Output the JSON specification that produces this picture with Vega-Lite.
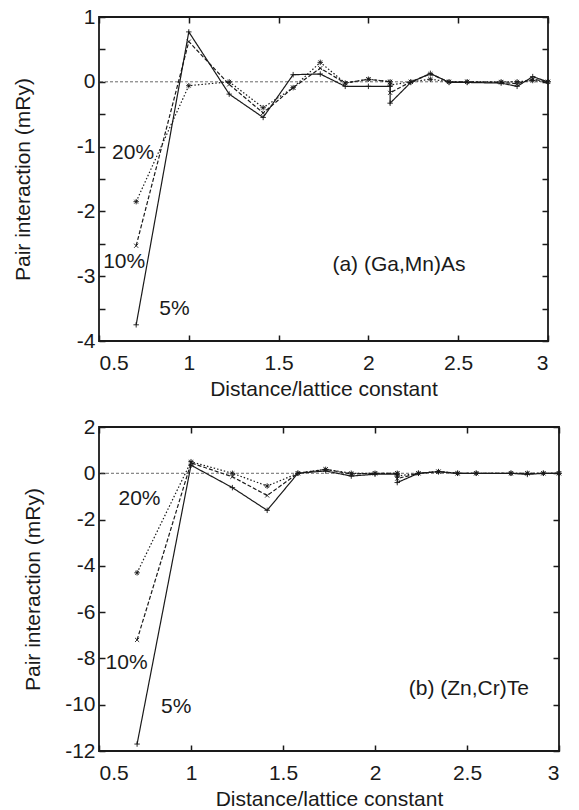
{
 "$schema": "https://vega.github.io/schema/vega-lite/v6.json",
 "padding": {"left": 11, "top": 5, "right": 5, "bottom": 0},
 "spacing": 15,
 "config": {
  "font": "Liberation Sans",
  "view": {"stroke": "#1a1a1a", "strokeWidth": 1.8},
  "axis": {"domain": false, "grid": false, "tickSize": -6, "tickWidth": 1.5, "tickColor": "#1a1a1a", "labelFont": "Liberation Sans", "labelFontSize": 21, "labelColor": "#1a1a1a", "titleFont": "Liberation Sans", "titleFontSize": 21, "titleFontWeight": "normal", "titleColor": "#1a1a1a", "labelPadding": 17, "titlePadding": 5},
  "axisY": {"labelPadding": 10},
  "text": {"font": "Liberation Sans"}
 },
 "datasets": {
  "a": [
   {"s":"5%","i":0,"x":0.707,"y":-3.75},{"s":"5%","i":1,"x":1.0,"y":0.77},{"s":"5%","i":2,"x":1.225,"y":-0.19},{"s":"5%","i":3,"x":1.414,"y":-0.55},{"s":"5%","i":4,"x":1.581,"y":0.11},{"s":"5%","i":5,"x":1.732,"y":0.12},{"s":"5%","i":6,"x":1.871,"y":-0.07},{"s":"5%","i":7,"x":2.0,"y":-0.07},{"s":"5%","i":8,"x":2.121,"y":-0.07},{"s":"5%","i":9,"x":2.121,"y":-0.33},{"s":"5%","i":10,"x":2.236,"y":-0.01},{"s":"5%","i":11,"x":2.345,"y":0.13},{"s":"5%","i":12,"x":2.449,"y":-0.01},{"s":"5%","i":13,"x":2.55,"y":-0.01},{"s":"5%","i":14,"x":2.739,"y":-0.02},{"s":"5%","i":15,"x":2.828,"y":-0.07},{"s":"5%","i":16,"x":2.915,"y":0.08},{"s":"5%","i":17,"x":3.0,"y":0.0},
   {"s":"10%","i":0,"x":0.707,"y":-2.53},{"s":"10%","i":1,"x":1.0,"y":0.62},{"s":"10%","i":2,"x":1.225,"y":-0.04},{"s":"10%","i":3,"x":1.414,"y":-0.48},{"s":"10%","i":4,"x":1.581,"y":-0.09},{"s":"10%","i":5,"x":1.732,"y":0.21},{"s":"10%","i":6,"x":1.871,"y":-0.02},{"s":"10%","i":7,"x":2.0,"y":0.04},{"s":"10%","i":8,"x":2.121,"y":0.0},{"s":"10%","i":9,"x":2.121,"y":-0.17},{"s":"10%","i":10,"x":2.236,"y":0.0},{"s":"10%","i":11,"x":2.345,"y":0.12},{"s":"10%","i":12,"x":2.449,"y":0.0},{"s":"10%","i":13,"x":2.55,"y":0.0},{"s":"10%","i":14,"x":2.739,"y":-0.01},{"s":"10%","i":15,"x":2.828,"y":-0.03},{"s":"10%","i":16,"x":2.915,"y":0.04},{"s":"10%","i":17,"x":3.0,"y":0.0},
   {"s":"20%","i":0,"x":0.707,"y":-1.85},{"s":"20%","i":1,"x":1.0,"y":-0.06},{"s":"20%","i":2,"x":1.225,"y":0.0},{"s":"20%","i":3,"x":1.414,"y":-0.40},{"s":"20%","i":4,"x":1.581,"y":-0.09},{"s":"20%","i":5,"x":1.732,"y":0.30},{"s":"20%","i":6,"x":1.871,"y":-0.02},{"s":"20%","i":7,"x":2.0,"y":0.04},{"s":"20%","i":8,"x":2.121,"y":0.0},{"s":"20%","i":9,"x":2.121,"y":-0.05},{"s":"20%","i":10,"x":2.236,"y":0.0},{"s":"20%","i":11,"x":2.345,"y":0.04},{"s":"20%","i":12,"x":2.449,"y":0.0},{"s":"20%","i":13,"x":2.55,"y":0.0},{"s":"20%","i":14,"x":2.739,"y":0.0},{"s":"20%","i":15,"x":2.828,"y":0.0},{"s":"20%","i":16,"x":2.915,"y":0.02},{"s":"20%","i":17,"x":3.0,"y":0.0}
  ],
  "b": [
   {"s":"5%","i":0,"x":0.707,"y":-11.7},{"s":"5%","i":1,"x":1.0,"y":0.35},{"s":"5%","i":2,"x":1.225,"y":-0.62},{"s":"5%","i":3,"x":1.414,"y":-1.6},{"s":"5%","i":4,"x":1.581,"y":0.0},{"s":"5%","i":5,"x":1.732,"y":0.1},{"s":"5%","i":6,"x":1.871,"y":-0.12},{"s":"5%","i":7,"x":2.0,"y":-0.04},{"s":"5%","i":8,"x":2.121,"y":-0.04},{"s":"5%","i":9,"x":2.121,"y":-0.4},{"s":"5%","i":10,"x":2.236,"y":0.0},{"s":"5%","i":11,"x":2.345,"y":0.07},{"s":"5%","i":12,"x":2.449,"y":0.0},{"s":"5%","i":13,"x":2.55,"y":0.0},{"s":"5%","i":14,"x":2.739,"y":0.0},{"s":"5%","i":15,"x":2.828,"y":-0.05},{"s":"5%","i":16,"x":2.915,"y":0.0},{"s":"5%","i":17,"x":3.0,"y":0.0},
   {"s":"10%","i":0,"x":0.707,"y":-7.2},{"s":"10%","i":1,"x":1.0,"y":0.45},{"s":"10%","i":2,"x":1.225,"y":-0.15},{"s":"10%","i":3,"x":1.414,"y":-0.96},{"s":"10%","i":4,"x":1.581,"y":0.0},{"s":"10%","i":5,"x":1.732,"y":0.17},{"s":"10%","i":6,"x":1.871,"y":-0.03},{"s":"10%","i":7,"x":2.0,"y":0.0},{"s":"10%","i":8,"x":2.121,"y":0.0},{"s":"10%","i":9,"x":2.121,"y":-0.23},{"s":"10%","i":10,"x":2.236,"y":0.0},{"s":"10%","i":11,"x":2.345,"y":0.07},{"s":"10%","i":12,"x":2.449,"y":0.0},{"s":"10%","i":13,"x":2.55,"y":0.0},{"s":"10%","i":14,"x":2.739,"y":0.0},{"s":"10%","i":15,"x":2.828,"y":0.0},{"s":"10%","i":16,"x":2.915,"y":0.0},{"s":"10%","i":17,"x":3.0,"y":0.0},
   {"s":"20%","i":0,"x":0.707,"y":-4.3},{"s":"20%","i":1,"x":1.0,"y":0.5},{"s":"20%","i":2,"x":1.225,"y":0.0},{"s":"20%","i":3,"x":1.414,"y":-0.55},{"s":"20%","i":4,"x":1.581,"y":0.0},{"s":"20%","i":5,"x":1.732,"y":0.17},{"s":"20%","i":6,"x":1.871,"y":0.0},{"s":"20%","i":7,"x":2.0,"y":0.0},{"s":"20%","i":8,"x":2.121,"y":0.0},{"s":"20%","i":9,"x":2.121,"y":-0.12},{"s":"20%","i":10,"x":2.236,"y":0.0},{"s":"20%","i":11,"x":2.345,"y":0.07},{"s":"20%","i":12,"x":2.449,"y":0.0},{"s":"20%","i":13,"x":2.55,"y":0.0},{"s":"20%","i":14,"x":2.739,"y":0.0},{"s":"20%","i":15,"x":2.828,"y":0.0},{"s":"20%","i":16,"x":2.915,"y":0.0},{"s":"20%","i":17,"x":3.0,"y":0.0}
  ],
  "aLab": [{"x":0.69,"y":-1.1,"t":"20%"},{"x":0.64,"y":-2.78,"t":"10%"},{"x":0.92,"y":-3.5,"t":"5%"},{"x":2.17,"y":-2.82,"t":"(a) (Ga,Mn)As"}],
  "bLab": [{"x":0.72,"y":-1.13,"t":"20%"},{"x":0.65,"y":-8.2,"t":"10%"},{"x":0.92,"y":-10.1,"t":"5%"},{"x":2.51,"y":-9.3,"t":"(b) (Zn,Cr)Te"}],
  "zero": [{"z":0}]
 },
 "vconcat": [
  {
   "width": 449, "height": 324,
   "resolve": {"axis": {"x": "independent", "y": "independent"}},
   "layer": [
    {"data": {"name": "zero"}, "mark": {"type": "rule", "strokeDash": [3,2], "strokeWidth": 0.8, "color": "#444"},
     "encoding": {"y": {"field": "z", "type": "quantitative", "scale": {"domain": [-4,1], "nice": false}, "axis": null}}},
    {"data": {"name": "a"}, "mark": {"type": "line", "strokeWidth": 1.2, "color": "#1a1a1a"},
     "encoding": {
      "x": {"field": "x", "type": "quantitative", "scale": {"domain": [0.5,3], "nice": false}, "axis": {"values": [0.5,1,1.5,2,2.5,3], "title": "Distance/lattice constant", "labelExpr": "'' + datum.value"}},
      "y": {"field": "y", "type": "quantitative", "scale": {"domain": [-4,1], "nice": false}, "axis": {"values": [-4,-3.5,-3,-2.5,-2,-1.5,-1,-0.5,0,0.5,1], "labelExpr": "datum.value % 1 === 0 ? '' + datum.value : ''", "title": "Pair interaction (mRy)", "titlePadding": 43}},
      "strokeDash": {"field": "s", "type": "nominal", "scale": {"domain": ["5%","10%","20%"], "range": [[1,0],[4,2],[1.5,2]]}, "legend": null},
      "order": {"field": "i", "type": "quantitative"}
     }},
    {"data": {"name": "a"}, "mark": {"type": "point", "filled": false, "strokeWidth": 0.9, "color": "#1a1a1a", "size": 30, "opacity": 1},
     "encoding": {
      "x": {"field": "x", "type": "quantitative", "axis": null},
      "y": {"field": "y", "type": "quantitative", "axis": null},
      "shape": {"field": "s", "type": "nominal", "scale": {"domain": ["5%","10%","20%"], "range": ["M-1,0L1,0M0,-1L0,1", "M-0.75,-0.75L0.75,0.75M-0.75,0.75L0.75,-0.75", "M-1,0L1,0M0,-1L0,1M-0.7,-0.7L0.7,0.7M-0.7,0.7L0.7,-0.7"]}, "legend": null}
     }},
    {"data": {"name": "aLab"}, "mark": {"type": "text", "fontSize": 21, "color": "#1a1a1a"},
     "encoding": {
      "x": {"field": "x", "type": "quantitative", "axis": null},
      "y": {"field": "y", "type": "quantitative", "axis": null},
      "text": {"field": "t", "type": "nominal"}
     }},
    {"data": {"name": "a"}, "mark": {"type": "point", "opacity": 0},
     "encoding": {
      "x": {"field": "x", "type": "quantitative", "axis": {"orient": "top", "values": [0.5,1,1.5,2,2.5,3], "labels": false, "title": null}},
      "y": {"field": "y", "type": "quantitative", "axis": {"orient": "right", "values": [-4,-3.5,-3,-2.5,-2,-1.5,-1,-0.5,0,0.5,1], "labels": false, "title": null}}
     }}
   ]
  },
  {
   "width": 460, "height": 324,
   "resolve": {"axis": {"x": "independent", "y": "independent"}},
   "layer": [
    {"data": {"name": "zero"}, "mark": {"type": "rule", "strokeDash": [3,2], "strokeWidth": 0.8, "color": "#444"},
     "encoding": {"y": {"field": "z", "type": "quantitative", "scale": {"domain": [-12,2], "nice": false}, "axis": null}}},
    {"data": {"name": "b"}, "mark": {"type": "line", "strokeWidth": 1.2, "color": "#1a1a1a"},
     "encoding": {
      "x": {"field": "x", "type": "quantitative", "scale": {"domain": [0.5,3], "nice": false}, "axis": {"values": [0.5,1,1.5,2,2.5,3], "title": "Distance/lattice constant", "labelExpr": "'' + datum.value"}},
      "y": {"field": "y", "type": "quantitative", "scale": {"domain": [-12,2], "nice": false}, "axis": {"values": [-12,-10,-8,-6,-4,-2,0,2], "labelExpr": "'' + datum.value", "title": "Pair interaction (mRy)", "titlePadding": 21}},
      "strokeDash": {"field": "s", "type": "nominal", "scale": {"domain": ["5%","10%","20%"], "range": [[1,0],[4,2],[1.5,2]]}, "legend": null},
      "order": {"field": "i", "type": "quantitative"}
     }},
    {"data": {"name": "b"}, "mark": {"type": "point", "filled": false, "strokeWidth": 0.9, "color": "#1a1a1a", "size": 30, "opacity": 1},
     "encoding": {
      "x": {"field": "x", "type": "quantitative", "axis": null},
      "y": {"field": "y", "type": "quantitative", "axis": null},
      "shape": {"field": "s", "type": "nominal", "scale": {"domain": ["5%","10%","20%"], "range": ["M-1,0L1,0M0,-1L0,1", "M-0.75,-0.75L0.75,0.75M-0.75,0.75L0.75,-0.75", "M-1,0L1,0M0,-1L0,1M-0.7,-0.7L0.7,0.7M-0.7,0.7L0.7,-0.7"]}, "legend": null}
     }},
    {"data": {"name": "bLab"}, "mark": {"type": "text", "fontSize": 21, "color": "#1a1a1a"},
     "encoding": {
      "x": {"field": "x", "type": "quantitative", "axis": null},
      "y": {"field": "y", "type": "quantitative", "axis": null},
      "text": {"field": "t", "type": "nominal"}
     }},
    {"data": {"name": "b"}, "mark": {"type": "point", "opacity": 0},
     "encoding": {
      "x": {"field": "x", "type": "quantitative", "axis": {"orient": "top", "values": [0.5,1,1.5,2,2.5,3], "labels": false, "title": null}},
      "y": {"field": "y", "type": "quantitative", "axis": {"orient": "right", "values": [-12,-10,-8,-6,-4,-2,0,2], "labels": false, "title": null}}
     }}
   ]
  }
 ]
}
